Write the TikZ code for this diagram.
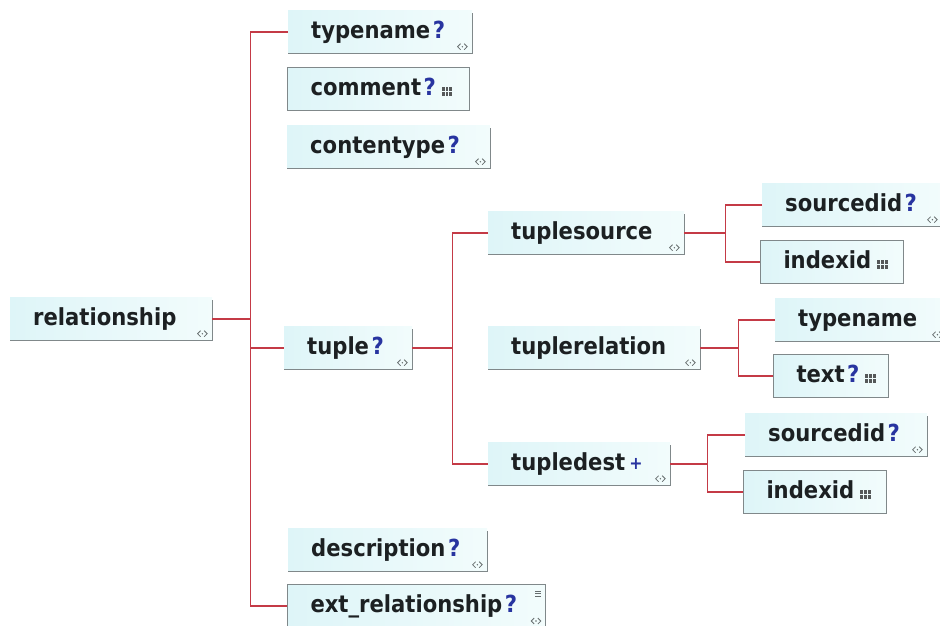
\documentclass[tikz,border=0pt]{standalone}
\usepackage{fontspec}
\newfontfamily\elemfont{DejaVu Sans Condensed Bold}[HyphenChar=None]
\usetikzlibrary{positioning}

\definecolor{linkred}{RGB}{196,58,70}
\definecolor{rimgray}{RGB}{128,136,138}
\definecolor{qblue}{RGB}{40,52,160}
\definecolor{boxcyan}{RGB}{222,245,248}
\definecolor{boxlite}{RGB}{242,252,252}
\definecolor{inkdark}{RGB}{28,32,34}

\newcommand{\opt}{\kern2.5pt\textcolor{qblue}{?}}
\newcommand{\many}{\kern4pt\textcolor{qblue}{\raisebox{1pt}{\scalebox{0.75}{+}}}}
\newcommand{\abcicon}{\kern6pt\tikz[baseline=0pt,x=1pt,y=1pt]{\foreach \i in {0,1,2} \foreach \j in {0,1} \fill[inkdark!75] (\i*3.8,\j*4.8) rectangle ++(2.7,3.4);}}

\begin{document}
\begin{tikzpicture}[x=1pt, y=-1pt,
						elem/.style={anchor=west, text width=#1, inner xsep=0pt, align=left,
							minimum height=43pt, text height=18pt, text depth=5pt,
							font=\elemfont\fontsize{23.5}{26}\selectfont, text=inkdark,
							left color=boxcyan, right color=boxlite,
							execute at begin node={\noindent\hspace*{23pt}}},
						simple/.style={elem=#1, draw=rimgray, line width=1pt},
						rimline/.style={draw=rimgray, line width=1.4pt},
						link/.style={draw=linkred, line width=1.2pt},
						iconline/.style={draw=rimgray!80!black, line width=0.8pt},]
		\useasboundingbox (0,0) rectangle (940,625);

		% left column
		\node (root) [elem=202pt] at (10,319) {relationship};
		\node (tn) [elem=184pt] at (288,32) {typename\opt};
		\node (cm) [simple=182pt] at (287,89) {comment\opt\abcicon};
		\node (ct) [elem=203pt] at (287,147) {contentype\opt};
		\node (tp) [elem=128pt] at (284,348) {tuple\opt};
		\node (ds) [elem=199pt] at (288,550) {description\opt};
		\node (ex) [simple=258pt] at (287,606) {ext\_relationship\opt};

		% tuple branch
		\node (ts) [elem=196pt] at (488,233) {tuplesource};
		\node (tr) [elem=212pt] at (488,348) {tuplerelation};
		\node (td) [elem=182pt] at (488,464) {tupledest\many};

		% leaves
		\node (sd1) [elem=180pt] at (762,205) {sourcedid\opt};
		\node (ix1) [simple=143pt] at (760,262) {indexid\abcicon};
		\node (tn2) [elem=172pt] at (775,320) {typename};
		\node (tx) [simple=115pt] at (773,376) {text\opt\abcicon};
		\node (sd3) [elem=182pt] at (745,435) {sourcedid\opt};
		\node (ix3) [simple=143pt] at (743,492) {indexid\abcicon};

		\foreach \n in {root,tn,ct,tp,ds,ts,sd1,tr,tn2,td,sd3}
			\draw[rimline] ([yshift=-3pt]\n.north east) -- (\n.south east) -- (\n.south west);

		\foreach \n in {root,tn,ct,tp,ds,ts,sd1,tr,tn2,td,sd3,ex} {
			\coordinate (k) at ([shift={(-10pt,7pt)}]\n.south east);
			\draw[iconline] (k) ++(-1.8pt,3pt) -- ++(-3pt,-3pt) -- ++(3pt,-3pt);
			\draw[iconline] (k) ++(1.8pt,3pt) -- ++(3pt,-3pt) -- ++(-3pt,-3pt);
			\fill[rimgray!80!black] (k) circle (0.8pt);
		}
		\coordinate (exmark) at ([shift={(-11pt,-7pt)}]ex.north east);
		\foreach \d in {0,2.8,5.6}
			\draw[iconline] ([yshift=-\d pt]exmark) -- ++(6pt,0);

		% connectors
		\coordinate (rootfork) at ([xshift=38pt]root.east);
		\coordinate (tuplefork) at ([xshift=40pt]tp.east);
		\coordinate (tsfork) at ([xshift=41pt]ts.east);
		\coordinate (trfork) at ([xshift=38pt]tr.east);
		\coordinate (tdfork) at ([xshift=37pt]td.east);

		\draw[link] (root.east) -- (rootfork);
		\draw[link] (tn.west) -| (rootfork) |- (ex.west);
		\draw[link] (rootfork) |- (tp.west);
		\draw[link] (tp.east) -- (tuplefork);
		\draw[link] (ts.west) -| (tuplefork) |- (td.west);
		\draw[link] (ts.east) -- (tsfork);
		\draw[link] (sd1.west) -| (tsfork) |- (ix1.west);
		\draw[link] (tr.east) -- (trfork);
		\draw[link] (tn2.west) -| (trfork) |- (tx.west);
		\draw[link] (td.east) -- (tdfork);
		\draw[link] (sd3.west) -| (tdfork) |- (ix3.west);
	\end{tikzpicture}
\end{document}
